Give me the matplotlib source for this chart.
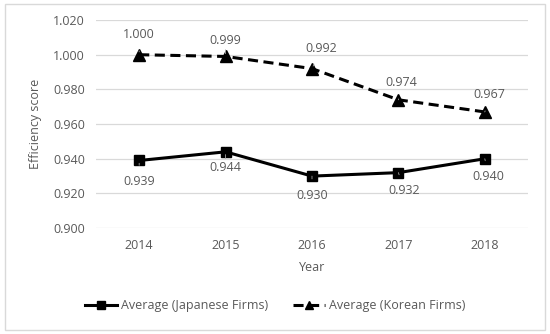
import matplotlib
matplotlib.use("Agg")
import matplotlib.pyplot as plt
from matplotlib.patches import Rectangle

years = ["2014", "2015", "2016", "2017", "2018"]
japan = [0.939, 0.944, 0.930, 0.932, 0.940]
korea = [1.000, 0.999, 0.992, 0.974, 0.967]
yticks = [0.900, 0.920, 0.940, 0.960, 0.980, 1.000, 1.020]

plt.rcParams['font.family'] = ['Open Sans', 'DejaVu Sans']
txt = '#595959'

fig = plt.figure(figsize=(5.5, 3.34), dpi=100)
ax = fig.add_axes([0.1745, 0.317, 0.7855, 0.623])
x = list(range(len(years)))

ax.plot(x, japan, color='black', lw=2.2, marker='s', ms=7, label='Average (Japanese Firms)', zorder=3)
ax.plot(x, korea, color='black', lw=2.2, ls=(0, (3.3, 1.8)), marker='^', ms=8, label='Average (Korean Firms)', zorder=3)

ax.set_xlim(-0.5, len(years) - 0.5)
ax.set_ylim(0.900, 1.020)
ax.set_yticks(yticks)
ax.set_yticklabels([f"{v:.3f}" for v in yticks])
ax.set_xticks(x)
ax.set_xticklabels(years)
ax.grid(axis='y', color='#d9d9d9', lw=0.9)
ax.set_axisbelow(True)
for s in ax.spines.values():
    s.set_visible(False)
ax.tick_params(length=0, colors=txt, labelsize=9, pad=8)
ax.set_ylabel('Efficiency score', color=txt, fontsize=9, labelpad=8)
ax.set_xlabel('Year', color=txt, fontsize=9, labelpad=6)

j_off = [(0, -21), (0, -16), (0, -19), (6, -18), (4, -18)]
k_off = [(0, 20), (0, 16), (9, 20), (3, 17), (5, 17)]
for i, v in enumerate(japan):
    ax.annotate(f"{v:.3f}", (i, v), xytext=j_off[i], textcoords='offset pixels',
                ha='center', va='center', color=txt, fontsize=9,
                arrowprops=dict(arrowstyle='-', color='#a6a6a6', lw=0.6, shrinkA=5, shrinkB=2))
for i, v in enumerate(korea):
    ax.annotate(f"{v:.3f}", (i, v), xytext=k_off[i], textcoords='offset pixels',
                ha='center', va='center', color=txt, fontsize=9,
                arrowprops=dict(arrowstyle='-', color='#a6a6a6', lw=0.6, shrinkA=5, shrinkB=2))

leg = fig.legend(loc='center', bbox_to_anchor=(0.5, 0.085), ncol=2, frameon=False,
                 fontsize=9, handlelength=2.6, columnspacing=2.0, handletextpad=0.3,
                 markerscale=0.8)
for t in leg.get_texts():
    t.set_color(txt)

fig.patches.append(Rectangle((0.009, 0.012), 0.982, 0.976, transform=fig.transFigure,
                             fill=False, edgecolor='#d9d9d9', lw=1))

fig.savefig('out.png', dpi=100)
